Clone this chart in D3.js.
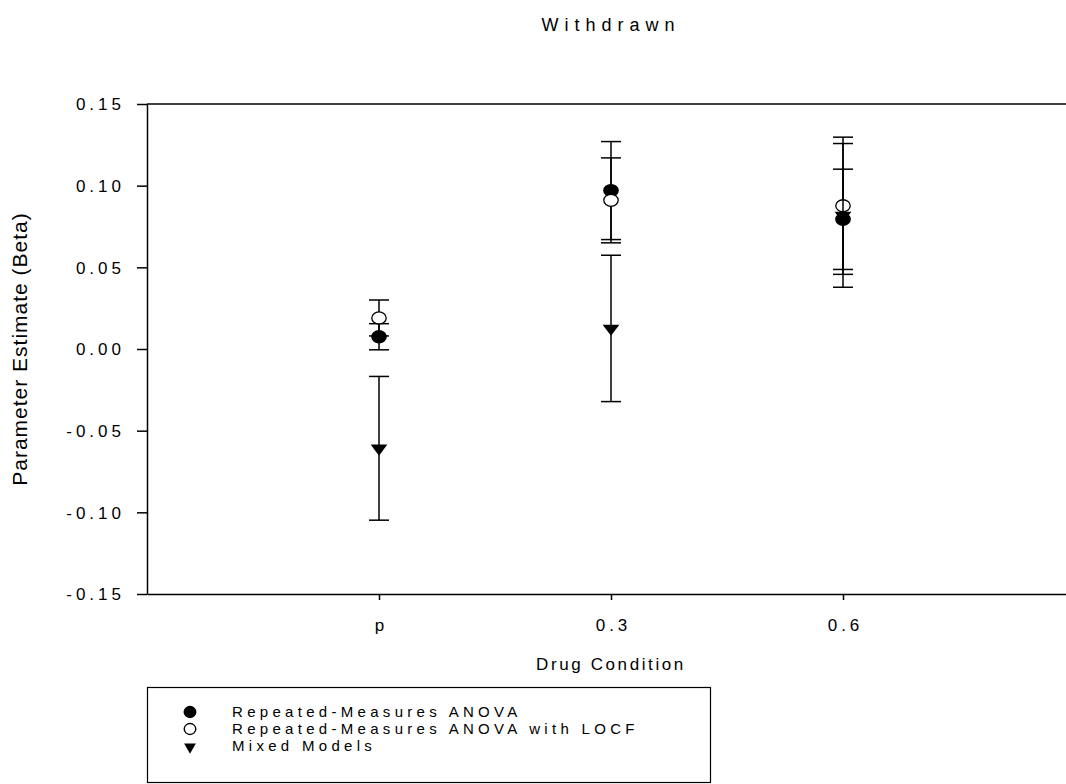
<!DOCTYPE html>
<html><head><meta charset="utf-8">
<script src="https://cdn.jsdelivr.net/npm/d3@7"></script>
<style>
html,body{margin:0;padding:0;background:#fff;}
text{font-family:"Liberation Sans",Arial,sans-serif;fill:#000;}
</style></head>
<body><svg id="c" width="1066" height="784"></svg>
<script>
const categories = ["p", "0.3", "0.6"];
const catPos = [1, 2, 3];
const rmAnova = [0.0075, 0.097, 0.0794];
const rmAnovaErr = [0.008, 0.030, 0.0307];
const rmLocf = [0.019, 0.091, 0.0877];
const rmLocfErr = [0.011, 0.026, 0.042];
const mixed = [-0.0608, 0.0126, 0.0818];
const mixedErr = [0.044, 0.0448, 0.044];
const yTicks = [-0.15, -0.10, -0.05, 0.00, 0.05, 0.10, 0.15];
const legendLabels = ["Repeated-Measures ANOVA", "Repeated-Measures ANOVA with LOCF", "Mixed Models"];

const svg = d3.select("#c");
const L = 147, T = 104, B = 594, R = 1075;
const x = d3.scaleLinear().domain([0, 4]).range([L, R]);
const y = d3.scaleLinear().domain([-0.15, 0.15]).range([B, T]);
const FF = "Liberation Sans, Arial, sans-serif";

svg.append("line").attr("x1", L).attr("x2", R).attr("y1", T).attr("y2", T).attr("stroke", "#000").attr("stroke-width", 1.5);

const fmt = d => d3.format(".2f")(d).replace("\u2212", "-");
const yAxis = d3.axisLeft(y).tickValues(yTicks).tickFormat(fmt).tickSize(10).tickSizeOuter(0);
const gy = svg.append("g").attr("transform", `translate(${L},0)`).call(yAxis);
gy.select(".domain").attr("stroke-width", 1.5);
gy.selectAll(".tick line").attr("stroke-width", 1.5);
gy.selectAll("text").attr("font-size", 17).attr("letter-spacing", "4px").attr("x", -22).attr("dy", "0.35em").attr("font-family", FF);

const xAxis = d3.axisBottom(x).tickValues(catPos).tickFormat((d, i) => categories[i]).tickSize(6).tickSizeOuter(0);
const gx = svg.append("g").attr("transform", `translate(0,${B})`).call(xAxis);
gx.select(".domain").attr("stroke-width", 1.5);
gx.selectAll(".tick line").attr("stroke-width", 1.5);
gx.selectAll("text").attr("font-size", 17).attr("letter-spacing", "4px").attr("y", 37).attr("dy", 0).attr("dx", 2).attr("font-family", FF);

// titles
svg.append("text").attr("x", (L + R) / 2).attr("y", 31).attr("text-anchor", "middle").attr("font-size", 18).attr("letter-spacing", "6px").text("Withdrawn");
svg.append("text").attr("x", (L + R) / 2).attr("y", 670).attr("text-anchor", "middle").attr("font-size", 17).attr("letter-spacing", "2.6px").text("Drug Condition");
svg.append("text").attr("transform", `translate(27,${(T + B) / 2}) rotate(-90)`).attr("text-anchor", "middle").attr("font-size", 21).attr("letter-spacing", "1px").text("Parameter Estimate (Beta)");

const series = [
  {vals: rmAnova, errs: rmAnovaErr, type: "filled"},
  {vals: rmLocf, errs: rmLocfErr, type: "open"},
  {vals: mixed, errs: mixedErr, type: "tri"}
];
const capW = 10;
const circ = d3.symbol().type(d3.symbolCircle).size(Math.PI * 6 * 6);
const tri = d3.symbol().type(d3.symbolTriangle).size(72);

series.forEach(s => {
  const g = svg.append("g");
  catPos.forEach((c, i) => {
    const cx = x(c), v = s.vals[i], e = s.errs[i];
    g.append("line").attr("x1", cx).attr("x2", cx).attr("y1", y(v + e)).attr("y2", y(v - e)).attr("stroke", "#000").attr("stroke-width", 1.5);
    [v + e, v - e].forEach(w => g.append("line").attr("x1", cx - capW).attr("x2", cx + capW).attr("y1", y(w)).attr("y2", y(w)).attr("stroke", "#000").attr("stroke-width", 1.5));
  });
  catPos.forEach((c, i) => {
    const cx = x(c), cy = y(s.vals[i]);
    if (s.type === "tri") {
      g.append("path").attr("d", tri()).attr("transform", `translate(${cx},${cy}) scale(1.3,1) rotate(180)`).attr("fill", "#000");
    } else {
      g.append("path").attr("d", circ()).attr("transform", `translate(${cx},${cy}) scale(1.2,1)`).attr("fill", s.type === "filled" ? "#000" : "#fff").attr("stroke", "#000").attr("stroke-width", 1.3).attr("vector-effect", "non-scaling-stroke");
    }
  });
});

// legend
const lg = svg.append("g");
lg.append("rect").attr("x", 147.5).attr("y", 687.5).attr("width", 563).attr("height", 95).attr("fill", "none").attr("stroke", "#000").attr("stroke-width", 1.2);
const legendTypes = ["filled", "open", "tri"];
legendLabels.forEach((t, i) => {
  const ly = 712 + i * 17;
  const sx = 190;
  if (legendTypes[i] === "tri") {
    lg.append("path").attr("d", d3.symbol().type(d3.symbolTriangle).size(60)()).attr("transform", `translate(${sx},${ly + 1}) rotate(180)`).attr("fill", "#000");
  } else {
    lg.append("path").attr("d", d3.symbol().type(d3.symbolCircle).size(Math.PI * 5.5 * 5.5)()).attr("transform", `translate(${sx},${ly}) scale(1.05,1)`)
      .attr("fill", legendTypes[i] === "filled" ? "#000" : "#fff").attr("stroke", "#000").attr("stroke-width", 1.3);
  }
  lg.append("text").attr("x", 232).attr("y", ly + 5).attr("font-size", 15).attr("letter-spacing", "4.3px").text(t);
});
</script></body></html>
